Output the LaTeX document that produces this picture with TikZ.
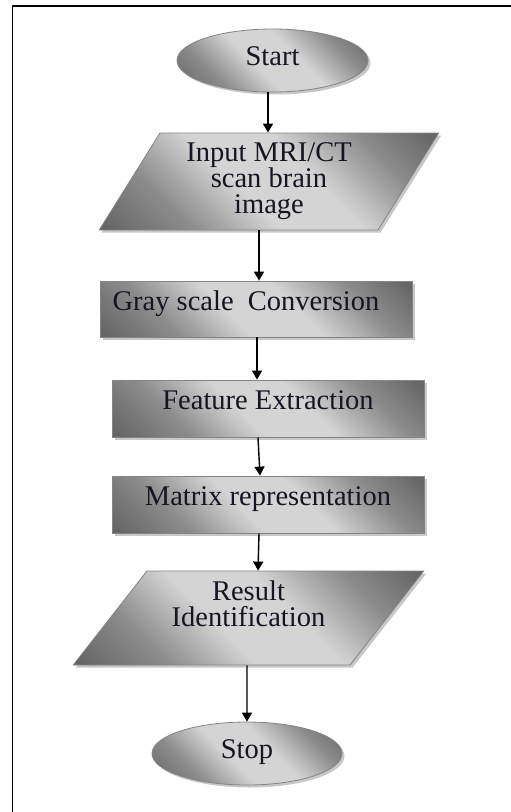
\documentclass[tikz,border=0pt]{standalone}
\usepackage{fontspec}
\setmainfont{Liberation Serif}
\usetikzlibrary{shapes.geometric,shadows,arrows.meta}
\definecolor{shdark}{gray}{0.40}
\definecolor{shmid}{gray}{0.55}
\definecolor{shlight}{gray}{0.83}
\definecolor{edgegray}{gray}{0.52}
\definecolor{inkcol}{RGB}{22,22,34}
% dark - light - dark band used for every flowchart shape
\pgfdeclareverticalshading{flowshade}{100bp}{color(0bp)=(shdark); color(16bp)=(shdark); color(30bp)=(shmid); color(44bp)=(shlight); color(58bp)=(shlight); color(72bp)=(shmid); color(84bp)=(shdark); color(100bp)=(shdark)}
\begin{document}
\begin{tikzpicture}[x=1pt,y=-1pt,
  base/.style={draw=edgegray, line width=0.8pt, shade, shading=flowshade, shading angle=-45,
    inner sep=0pt, font=\fontsize{28.5}{26}\selectfont, text=inkcol,
    drop shadow={shadow xshift=2.5pt, shadow yshift=-2.5pt, fill=black, opacity=0.22}},
  terminal/.style={base, ellipse, text height=19pt, text depth=8.5pt},
  procbox/.style={base, rectangle, minimum width=312pt, text height=19pt, text depth=17pt},
  iobox/.style={base, trapezium, trapezium stretches=true, align=center},
  arr/.style={-{Triangle[length=9pt,width=10pt]}, line width=1.4pt}]
\useasboundingbox (0,0) rectangle (511,812);
% page frame (top and left rules)
\draw[line width=1.8pt] (12.5,812) -- (12.5,6) -- (511,6);

\node[terminal, minimum width=191pt, minimum height=63pt] (start) at (272.5,60.5) {Start};
\node[iobox, minimum width=340pt, minimum height=97pt,
      trapezium left angle=59.1, trapezium right angle=120.9] (in1) at (269,181.5)
      {Input MRI/CT\\scan brain\\image};
\node[procbox, minimum height=56pt] (gray) at (256,309) {Gray scale\ \ Conversion\hspace*{20pt}};
\node[procbox, minimum height=57pt] (feat) at (268,408.5) {Feature Extraction};
\node[procbox, minimum height=57pt] (matrix) at (268,504.5) {Matrix representation};
\node[iobox, minimum width=351pt, minimum height=94pt, text depth=29pt,
      trapezium left angle=53.3, trapezium right angle=126.7] (res) at (248.5,618)
      {Result\\Identification};
\node[terminal, minimum width=190pt, minimum height=63pt] (stop) at (247,753.5) {Stop};

\draw[arr] ([xshift=-4.5pt]start.south) -- ([xshift=-4.5pt]start.south |- in1.north);
\draw[arr] ([xshift=-10pt]in1.south) -- ([xshift=-10pt]in1.south |- gray.north);
\draw[arr] ([xshift=1pt]gray.south) -- ([xshift=1pt]gray.south |- feat.north);
\draw[arr] ([xshift=-10pt]feat.south) -- ([xshift=-8pt]matrix.north);
\draw[arr] ([xshift=-9pt]matrix.south) -- ([xshift=9.5pt]res.north);
\draw[arr] ([xshift=-1.5pt]res.south) -- (stop.north);
\end{tikzpicture}
\end{document}
